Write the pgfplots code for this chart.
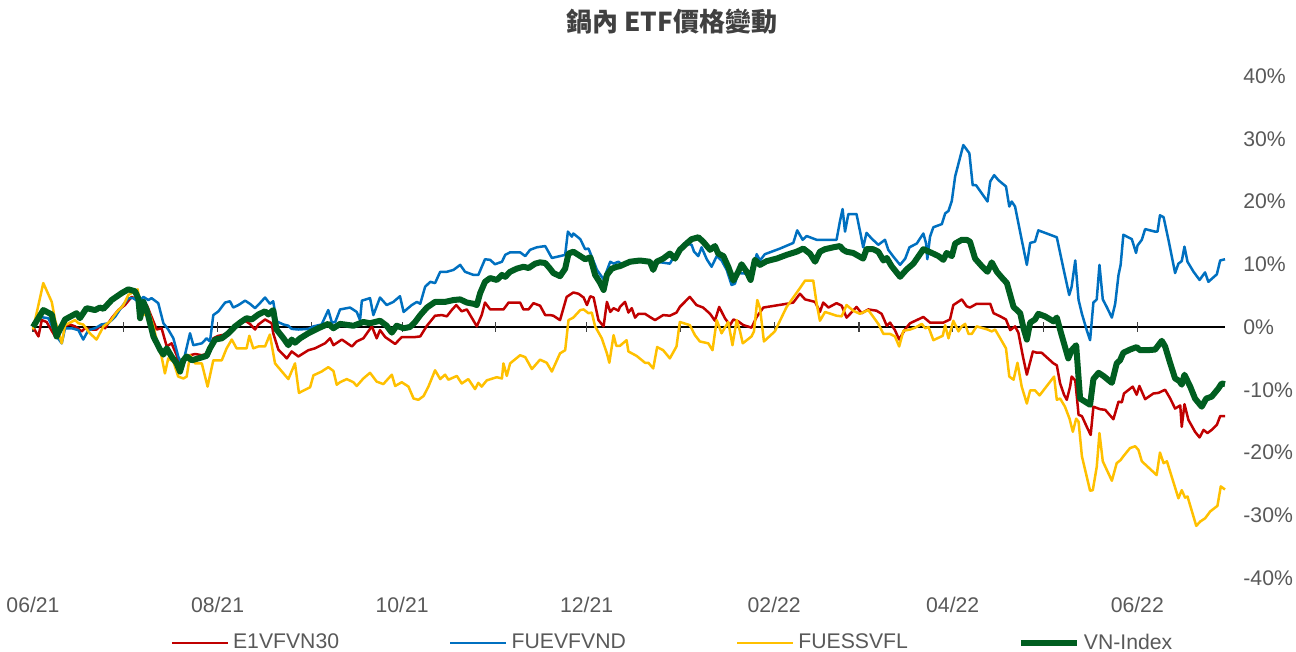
\documentclass[border=0pt]{standalone}
\usepackage{pgfplots}
\pgfplotsset{compat=1.18}
\usepackage{fontspec}
\setmainfont{Liberation Sans}
\newfontfamily\cjk{Noto Sans CJK TC}
\definecolor{cred}{HTML}{C00000}
\definecolor{cblue}{HTML}{0070C0}
\definecolor{cyellow}{HTML}{FFC000}
\definecolor{cgreen}{RGB}{0,94,32}
\definecolor{labelgray}{HTML}{595959}
\definecolor{titlegray}{HTML}{404040}
\begin{document}
\begin{tikzpicture}
\useasboundingbox (-16.5pt,-37pt) rectangle (631.5pt,289pt);
\begin{axis}[
  scale only axis, width=596pt, height=251pt,
  xmin=0, xmax=394, ymin=-40, ymax=40,
  axis line style={draw=none},
  tick style={draw=none},
  major tick length=0pt,
  xtick={0,61,122,183,245,304,365},
  xticklabels={06/21,08/21,10/21,12/21,02/22,04/22,06/22},
  xticklabel style={font=\fontsize{10.6}{12}\selectfont, text=labelgray, inner sep=0pt, anchor=north, yshift=-9.5pt},
  ytick={-40,-30,-20,-10,0,10,20,30,40},
  yticklabels={-40\%,-30\%,-20\%,-10\%,0\%,10\%,20\%,30\%,40\%},
  yticklabel pos=right,
  yticklabel style={font=\fontsize{10.6}{12}\selectfont, text=labelgray, inner sep=0pt, anchor=west, xshift=9pt},
  legend columns=4,
  legend style={draw=none, fill=none, at={(0.5373,-0.1295)}, anchor=center,
    font=\fontsize{10.6}{12}\selectfont, text=labelgray,
    /tikz/every even column/.append style={column sep=53pt}},
  legend image code/.code={\draw[#1] (0pt,0pt) -- (28pt,0pt);},
  clip=false,
  line join=round,
]
\draw[black, line width=0.6pt] (axis cs:0,0) -- (axis cs:394,0);
\pgfplotsinvokeforeach{0,30,61,92,122,153,183,214,245,273,304,334,365}{
  \draw[black!75, line width=0.6pt] (axis cs:#1,-0.72) -- (axis cs:#1,0.72);
}
% E1VFVN30
\addplot[cred, line width=1.25pt] coordinates {
(0,0) (1.8,-1.5) (2.9,1.1) (4.5,0.8) (7.3,-1.5) (8.4,-0.4) (10.0,0.1) (12.2,0.4) (13.9,0.1) (16.1,-0.7)
(17.2,-0.2) (19.4,-0.4) (21.0,-0.4) (22.7,0.4) (23.8,-0.2) (26.0,1.4) (28.2,2.7) (30.4,3.5) (32.6,4.8) (34.8,4.3)
(35.9,3.5) (37.6,3.5) (39.2,1.6) (40.9,-0.4) (42.5,-0.2) (44.2,-3.1) (45.8,-2.6) (47.5,-4.5) (49.1,-6.9) (50.2,-5.3)
(51.9,-4.5) (53.6,-4.3) (55.8,-4.5) (57.9,-4.2) (59.6,-1.8) (61.3,-1.4) (63.5,-1.2) (65.1,-0.4) (67.3,0.1) (70.1,1.0)
(71.7,0.5) (73.4,-0.4) (74.5,0.4) (76.7,1.2) (78.9,0.6) (79.4,-1.0) (81.1,-3.6) (83.9,-5.0) (85.5,-3.9) (87.7,-4.7)
(91.0,-3.7) (93.2,-3.4) (96.5,-2.6) (98.2,-1.8) (99.3,-2.9) (102.1,-2.0) (105.4,-3.1) (107.0,-2.3) (109.2,-1.8) (112.0,0.1)
(113.6,-1.8) (114.7,-0.5) (116.4,-1.6) (119.7,-2.7) (121.9,-1.6) (126.3,-1.6) (128.0,-1.5) (130.2,0.2) (132.9,1.8) (135.1,1.9)
(136.8,1.7) (138.4,2.7) (139.9,3.5) (141.7,2.5) (143.4,2.8) (145.0,1.5) (146.7,0.1) (148.3,1.9) (149.4,3.9) (151.1,2.8)
(155.5,2.8) (157.2,3.9) (161.0,3.9) (162.1,2.8) (163.8,2.8) (165.4,3.8) (167.6,3.4) (169.3,1.9) (170.9,1.9) (172.0,1.8)
(174.2,1.1) (176.4,4.8) (178.6,5.5) (180.3,5.3) (182.0,4.7) (183.1,3.5) (184.2,4.9) (185.3,4.7) (186.9,1.1) (188.6,0.1)
(189.7,4.0) (190.8,2.4) (191.9,3.0) (193.5,2.6) (194.0,3.2) (195.7,4.0) (196.8,2.3) (197.9,3.0) (199.0,1.5) (200.1,2.1)
(202.3,2.1) (203.9,1.6) (205.6,1.1) (208.3,1.9) (210.5,1.8) (212.7,2.3) (213.8,3.2) (217.1,4.8) (219.3,3.5) (221.5,3.1)
(223.8,2.1) (225.4,1.0) (226.8,3.2) (228.7,1.4) (230.4,0.3) (231.5,1.2) (233.1,0.9) (234.8,0.3) (237.5,-0.1) (239.2,1.6)
(241.4,3.1) (249.1,3.7) (251.3,3.9) (253.5,5.3) (255.2,4.4) (258.5,4.0) (260.1,2.4) (261.2,3.9) (262.9,3.1) (265.6,3.8)
(267.3,3.4) (268.9,1.5) (271.1,2.6) (272.2,3.2) (273.9,2.2) (276.1,2.8) (278.8,2.6) (280.5,2.1) (282.2,0.2) (283.3,0.7)
(284.9,-0.5) (286.3,-2.0) (288.2,-0.4) (289.9,0.6) (294.3,1.6) (296.5,0.7) (300.9,0.7) (303.1,1.2) (304.2,3.5) (307.0,4.4)
(308.6,3.3) (309.7,3.1) (311.9,3.7) (316.4,3.7) (317.5,2.2) (319.7,1.7) (321.6,1.2) (323.0,-0.5) (324.6,0.1) (325.7,-0.9)
(327.2,-4.7) (328.5,-7.6) (330.5,-3.9) (331.8,-4.1) (333.4,-4.1) (337.3,-5.8) (338.4,-6.1) (339.5,-9.0) (340.8,-10.8) (341.7,-11.6)
(342.8,-9.5) (343.3,-7.9) (344.5,-8.5) (345.6,-14.0) (346.7,-14.2) (348.3,-15.9) (349.6,-17.2) (350.5,-12.7) (352.7,-13.1) (354.4,-13.2)
(357.1,-14.7) (358.8,-11.9) (359.9,-12.0) (360.6,-10.6) (363.5,-9.5) (364.8,-10.8) (365.7,-9.4) (367.6,-11.5) (370.3,-10.6) (372.0,-10.5)
(374.2,-10.0) (375.9,-11.4) (377.5,-13.0) (379.2,-12.5) (379.7,-15.9) (380.6,-12.3) (381.9,-14.8) (384.1,-16.7) (385.6,-17.6) (386.9,-16.4)
(388.2,-16.9) (389.6,-16.4) (391.3,-15.6) (392.4,-14.2) (394.0,-14.2)
};
\addlegendentry{E1VFVN30}
% FUEVFVND
\addplot[cblue, line width=1.25pt] coordinates {
(0,0) (2.3,1.6) (5.1,1.4) (7.8,-1.5) (9.5,-2.6) (10.6,-0.2) (12.8,-0.2) (15.0,-0.5) (16.6,-2.0) (18.3,-0.5)
(20.5,-0.2) (22.7,0.4) (24.9,0.6) (27.1,1.6) (29.3,3.2) (31.5,4.6) (33.2,4.6) (34.8,4.0) (36.5,4.8) (38.1,4.3)
(39.2,4.6) (41.4,3.8) (43.1,0.6) (44.7,-0.4) (46.4,-1.8) (48.0,-4.7) (49.1,-5.8) (50.2,-4.5) (51.9,-1.0) (53.0,-2.9)
(55.8,-2.6) (57.4,-1.8) (58.5,-2.3) (59.6,1.9) (61.3,2.5) (63.5,3.9) (65.1,4.1) (66.2,3.1) (67.9,3.5) (70.1,4.2)
(71.7,3.7) (73.4,3.0) (75.0,3.8) (76.7,4.7) (78.3,3.7) (79.4,4.1) (80.5,0.9) (82.8,0.4) (84.4,0.2) (85.5,-0.3)
(87.7,-0.4) (91.0,-0.3) (92.7,0.1) (95.4,0.4) (97.6,2.7) (98.8,0.7) (99.9,0.8) (101.5,2.8) (104.8,3.1) (107.0,2.4)
(108.1,1.1) (108.7,4.2) (111.4,4.6) (112.5,1.9) (114.7,4.7) (116.9,3.5) (119.1,4.0) (121.3,4.9) (122.5,2.4) (125.2,3.5)
(126.9,4.0) (128.0,3.7) (129.6,6.4) (131.3,7.2) (132.9,7.0) (134.6,8.8) (136.8,8.8) (139.0,9.1) (141.2,9.9) (142.8,8.8)
(145.6,8.3) (147.2,8.3) (149.4,10.8) (151.1,10.7) (152.7,10.0) (155.0,10.4) (156.1,11.5) (157.7,11.9) (161.0,11.9) (162.7,11.3)
(164.3,12.3) (166.5,12.7) (169.3,12.9) (171.5,11.0) (174.2,11.3) (175.9,11.5) (176.8,15.2) (178.1,14.4) (178.6,14.9) (180.9,14.0)
(182.5,12.4) (183.6,12.5) (184.7,11.2) (186.4,9.1) (188.6,7.6) (190.8,10.4) (191.9,10.1) (193.5,10.4) (194.6,10.0) (197.3,10.6)
(200.6,10.4) (203.4,10.6) (204.5,9.3) (206.1,10.4) (210.5,10.1) (212.2,11.5) (216.0,13.3) (217.7,13.1) (218.5,12.0) (219.9,11.3)
(221.0,12.7) (222.7,10.8) (224.3,9.6) (226.0,11.3) (227.6,10.6) (229.3,9.1) (230.9,6.7) (232.0,6.9) (233.1,8.6) (235.9,8.5)
(237.5,8.2) (239.2,11.6) (240.3,10.6) (241.9,11.6) (246.9,12.5) (251.3,13.4) (252.6,15.4) (254.4,13.9) (255.7,14.5) (259.0,13.9)
(265.6,13.9) (266.7,16.8) (267.6,18.8) (268.4,15.2) (269.5,18.0) (272.2,18.0) (273.6,14.7) (274.4,12.7) (275.5,15.0) (277.2,14.1)
(279.4,13.1) (281.6,13.9) (282.7,12.3) (284.4,11.2) (286.6,9.9) (288.3,10.9) (289.7,12.7) (292.1,13.3) (294.3,14.9) (295.2,13.3)
(295.6,10.8) (296.5,14.4) (297.6,15.9) (300.4,16.4) (301.5,18.1) (302.6,18.5) (303.7,20.1) (304.8,24.0) (307.5,29.0) (309.5,27.7)
(310.6,22.6) (311.7,22.6) (315.5,20.0) (316.4,23.2) (317.7,24.2) (319.1,23.4) (321.6,22.4) (322.7,19.2) (323.5,20.0) (324.6,19.2)
(326.8,13.9) (328.5,9.9) (329.6,13.4) (331.2,13.6) (332.3,15.4) (335.1,14.9) (338.4,14.3) (340.6,9.3) (342.5,5.1) (343.3,6.4)
(344.5,10.6) (345.6,4.3) (346.7,2.1) (348.3,-0.5) (349.4,-2.1) (350.5,3.9) (351.6,4.4) (352.5,9.9) (353.6,4.4) (354.9,3.2)
(356.6,1.5) (357.7,3.7) (358.8,8.3) (359.5,9.9) (360.4,14.7) (363.2,14.0) (364.6,11.8) (365.1,13.0) (366.5,13.9) (367.6,15.6)
(370.9,15.2) (371.7,15.2) (372.5,17.8) (373.7,17.5) (375.3,13.9) (377.5,8.6) (378.6,10.1) (379.7,10.5) (380.6,12.8) (381.6,10.4)
(383.6,8.8) (385.6,7.5) (387.4,8.7) (388.5,7.2) (391.3,8.4) (392.4,10.6) (394.0,10.8)
};
\addlegendentry{FUEVFVND}
% FUESSVFL
\addplot[cyellow, line width=1.25pt] coordinates {
(0,-0.4) (3.4,7.0) (6.2,4.0) (7.3,1.1) (9.5,-2.6) (10.6,0.3) (13.9,1.1) (15.0,0.6) (16.6,0.4) (18.8,-1.0)
(21.0,-2.0) (23.3,0.1) (25.5,0.9) (27.7,2.4) (29.9,3.5) (31.5,5.1) (33.2,5.6) (34.6,6.0) (35.4,3.5) (36.5,1.9)
(38.1,2.7) (39.8,0.1) (41.4,-3.1) (42.5,-4.7) (43.6,-7.4) (44.7,-5.0) (46.4,-5.5) (48.0,-7.9) (49.7,-8.2) (50.8,-7.9)
(51.9,-4.5) (53.6,-5.8) (55.8,-5.8) (57.7,-9.5) (59.6,-5.3) (62.4,-5.3) (64.0,-3.4) (65.7,-2.0) (67.3,-3.4) (70.6,-3.4)
(71.5,-1.4) (72.8,-3.4) (74.5,-3.1) (76.7,-3.1) (78.3,-1.2) (80.0,-5.8) (82.8,-7.4) (84.4,-8.3) (86.6,-5.8) (87.9,-10.5)
(91.6,-9.6) (92.7,-7.7) (95.4,-7.1) (97.6,-6.4) (99.3,-7.0) (100.4,-9.2) (101.5,-8.8) (103.7,-8.3) (105.9,-8.8) (107.0,-9.4)
(109.2,-8.2) (111.4,-7.3) (113.6,-8.7) (115.8,-9.1) (118.6,-7.6) (119.7,-9.4) (121.9,-8.8) (124.1,-9.5) (125.8,-11.4) (127.4,-11.6)
(129.1,-11.0) (130.7,-9.5) (132.9,-6.9) (134.6,-8.3) (136.2,-7.6) (137.3,-8.4) (140.1,-7.8) (141.7,-9.0) (143.9,-8.3) (146.1,-9.9)
(147.2,-8.9) (148.3,-9.5) (150.0,-8.5) (153.3,-8.0) (155.0,-8.2) (155.5,-5.8) (156.6,-7.8) (157.7,-5.8) (161.0,-4.5) (162.7,-4.8)
(164.9,-6.7) (167.6,-5.2) (169.8,-5.7) (171.5,-7.1) (174.2,-4.2) (175.9,-3.7) (177.0,1.1) (178.6,1.5) (180.9,2.7) (182.0,2.8)
(183.6,2.2) (184.7,2.3) (185.8,0.1) (188.0,-1.8) (189.7,-4.2) (190.5,-5.7) (191.9,-1.3) (192.8,-3.0) (194.0,-3.0) (196.2,-2.1)
(196.8,-3.9) (199.5,-4.6) (202.3,-5.7) (203.4,-5.7) (205.0,-6.6) (206.3,-3.2) (208.3,-3.7) (210.5,-5.0) (212.7,-3.1) (213.8,0.8)
(217.1,0.3) (218.8,-1.3) (220.4,-2.3) (223.2,-2.6) (224.6,-3.7) (226.0,1.1) (227.6,-1.0) (229.8,0.8) (231.2,-2.9) (232.6,1.1)
(233.7,-0.7) (234.6,-2.6) (237.5,-1.5) (238.3,-0.7) (239.4,4.3) (240.3,3.0) (241.6,-2.3) (245.2,-0.7) (249.1,3.2) (253.5,6.2)
(255.2,7.4) (257.9,7.4) (259.0,3.8) (260.1,1.0) (261.8,2.4) (265.6,1.8) (267.3,1.7) (268.9,3.5) (271.1,2.6) (273.3,2.1)
(276.1,2.7) (279.4,0.5) (281.1,-1.1) (283.3,-1.1) (284.9,-1.5) (286.3,-3.1) (287.7,-0.6) (289.9,-0.4) (291.6,-0.1) (293.8,0.5)
(294.9,-0.2) (296.0,0.0) (297.6,-2.1) (300.7,-1.4) (301.5,0.3) (302.6,-1.8) (304.2,1.0) (305.9,-0.7) (307.0,0.1) (308.1,0.5)
(309.2,-1.1) (310.3,-1.1) (311.9,0.1) (315.5,-0.4) (316.9,-0.7) (318.0,-0.4) (319.7,-1.8) (321.6,-3.4) (322.7,-7.9) (324.1,-8.4)
(325.4,-5.7) (326.8,-9.5) (328.5,-12.2) (329.6,-10.1) (331.2,-10.1) (332.7,-10.9) (337.5,-7.9) (338.4,-11.6) (339.5,-11.4) (341.1,-12.7)
(342.6,-14.6) (343.7,-16.7) (344.8,-14.6) (345.6,-15.1) (346.7,-20.6) (349.4,-26.1) (350.3,-26.0) (351.6,-22.3) (352.5,-16.9) (353.6,-21.4)
(356.6,-24.5) (358.2,-21.7) (359.5,-21.2) (360.4,-20.6) (362.6,-19.3) (364.3,-19.0) (365.4,-19.6) (366.5,-21.4) (371.4,-23.6) (372.5,-20.0)
(373.7,-21.7) (374.8,-21.4) (378.6,-27.3) (379.7,-26.0) (380.8,-27.2) (381.6,-27.0) (384.5,-31.7) (385.8,-31.0) (387.4,-30.5) (389.1,-29.4)
(391.5,-28.5) (392.6,-25.4) (394.0,-25.9)
};
\addlegendentry{FUESSVFL}
% VN-Index
\addplot[cgreen, line width=3pt] coordinates {
(0,0) (3.4,2.7) (6.2,2.0) (7.8,-1.5) (8.9,-0.4) (10.6,1.2) (14.4,2.2) (15.5,1.4) (17.7,3.0) (20.5,2.7)
(22.1,3.1) (23.3,2.9) (26.0,4.3) (29.3,5.4) (31.5,6.0) (33.7,5.7) (34.8,4.6) (35.4,1.4) (36.5,4.0) (37.6,2.7)
(39.8,-1.5) (42.0,-3.6) (43.1,-4.4) (44.2,-3.4) (45.8,-4.7) (47.5,-5.8) (48.6,-7.1) (49.7,-5.3) (50.8,-4.7) (52.5,-5.3)
(54.7,-5.0) (57.4,-4.6) (58.5,-3.4) (60.2,-2.0) (62.4,-1.8) (64.6,-1.0) (66.8,0.1) (69.0,0.9) (70.6,1.4) (72.3,1.2)
(74.5,2.0) (76.7,2.5) (77.8,2.0) (79.4,2.7) (80.5,-0.4) (82.8,-1.8) (84.4,-2.9) (85.5,-2.0) (86.6,-2.5) (88.3,-1.8)
(91.0,-1.0) (94.3,-0.2) (97.6,0.5) (99.3,-0.2) (101.5,0.5) (105.9,0.2) (109.2,0.8) (111.4,0.6) (114.7,1.0) (116.9,0.2)
(118.6,-0.9) (120.2,0.2) (122.5,-0.2) (124.6,0.0) (126.3,0.8) (128.0,1.9) (130.2,3.1) (132.9,4.0) (136.2,4.0) (139.0,4.3)
(141.2,4.4) (143.4,3.9) (145.6,3.7) (146.7,3.5) (147.8,5.4) (149.4,7.2) (151.1,7.8) (153.3,7.5) (155.0,8.3) (156.1,8.0)
(157.7,8.8) (159.9,9.3) (162.1,9.6) (163.8,9.4) (166.0,10.1) (167.6,10.3) (169.3,10.2) (170.9,9.3) (172.0,8.6) (174.2,8.1)
(175.9,9.3) (177.0,11.7) (178.6,12.0) (180.9,11.3) (182.5,10.8) (184.2,11.1) (185.8,8.3) (187.5,7.0) (188.6,5.9) (189.7,8.3)
(191.3,9.3) (193.0,9.6) (194.0,9.7) (197.3,10.4) (200.6,10.6) (203.9,10.4) (205.0,9.1) (206.1,10.4) (208.3,10.9) (210.5,11.7)
(212.2,10.9) (213.8,12.3) (216.0,13.3) (217.7,14.0) (219.9,14.3) (221.5,13.6) (223.8,12.3) (225.4,12.9) (226.5,11.7) (228.2,11.3)
(229.8,9.6) (231.5,7.4) (233.1,8.8) (234.2,10.0) (235.9,8.8) (237.2,7.5) (238.6,10.7) (240.3,9.9) (242.5,10.5) (245.8,10.9)
(249.1,11.5) (252.4,12.0) (254.6,12.5) (256.8,11.7) (258.5,10.4) (260.1,12.0) (261.8,12.4) (264.5,12.7) (266.7,12.9) (267.8,12.3)
(268.9,12.0) (271.1,11.8) (273.3,11.2) (274.4,10.9) (275.5,12.4) (277.7,12.4) (279.4,12.0) (281.1,10.6) (282.2,11.0) (283.8,9.7)
(286.6,8.0) (288.8,9.2) (291.0,10.1) (294.3,12.4) (297.1,11.8) (299.3,11.3) (300.9,10.7) (302.0,11.8) (303.7,11.3) (304.8,13.3)
(307.0,13.9) (308.6,13.9) (309.7,13.6) (311.4,10.9) (313.6,9.7) (315.5,8.8) (316.9,10.3) (318.6,8.8) (320.2,7.9) (321.9,7.0)
(324.1,3.2) (325.2,2.7) (326.3,2.2) (327.4,-0.2) (328.5,-2.0) (329.6,0.7) (331.2,1.2) (332.3,2.1) (334.5,1.7) (337.3,0.9)
(338.4,1.5) (340.0,-1.3) (342.2,-5.0) (343.3,-3.7) (344.8,-2.9) (346.1,-11.4) (349.4,-12.4) (350.5,-8.3) (352.2,-7.3) (353.8,-7.8)
(356.6,-8.9) (358.2,-5.8) (359.3,-5.3) (360.4,-4.1) (362.6,-3.6) (364.8,-3.2) (365.9,-3.7) (368.1,-3.7) (370.9,-3.6) (373.1,-2.2)
(374.2,-3.1) (375.9,-5.8) (377.5,-8.2) (378.9,-8.6) (379.7,-9.2) (380.6,-7.6) (382.5,-9.5) (384.1,-11.4) (386.3,-12.7) (387.8,-11.4)
(389.6,-11.1) (391.8,-9.8) (392.9,-9.0) (394.0,-9.1)
};
\addlegendentry{VN-Index}
\end{axis}
\node[anchor=center, text=titlegray, font=\cjk\bfseries\fontsize{13}{15}\selectfont] at (319.5pt,278pt) {鍋內 ETF價格變動};
\end{tikzpicture}
\end{document}
